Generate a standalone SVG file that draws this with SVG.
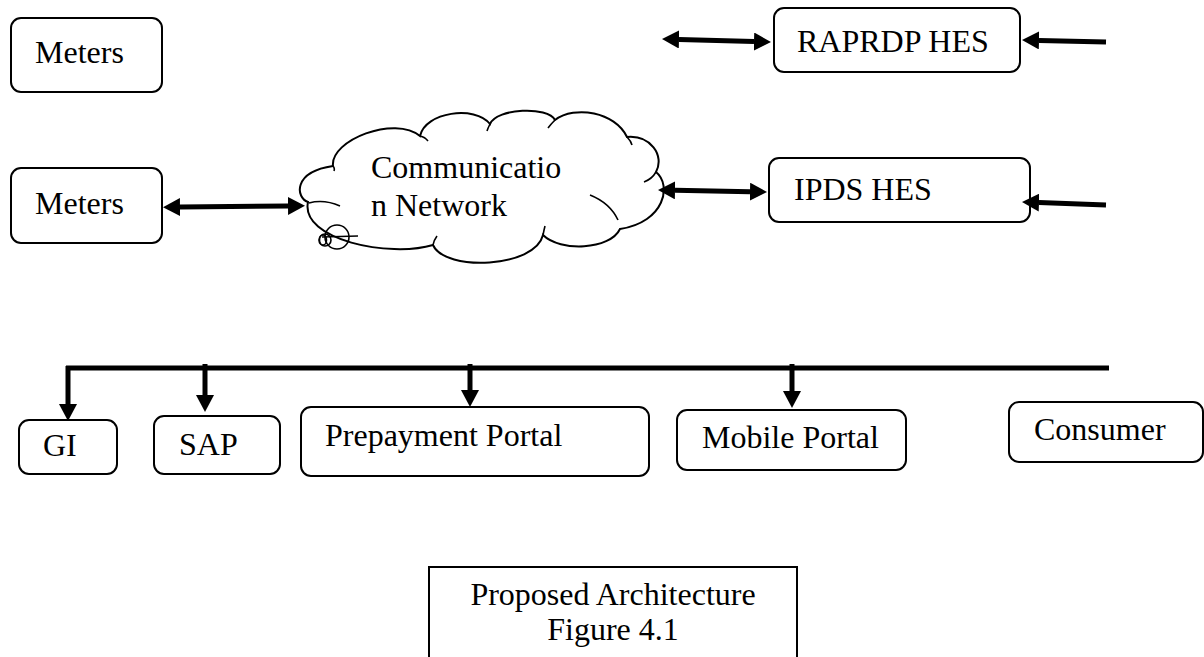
<svg xmlns="http://www.w3.org/2000/svg" width="1204" height="657" viewBox="0 0 1204 657">
<defs>
<marker id="ah" markerUnits="userSpaceOnUse" markerWidth="18" markerHeight="18" refX="0" refY="9" orient="auto-start-reverse" viewBox="0 0 18 18">
<path d="M0,0 L17,9 L0,18 z" fill="#000"/>
</marker>
</defs>
<style>
.box{fill:#fff;stroke:#000;stroke-width:2}
.t{font-family:"Liberation Serif","Times New Roman",serif;font-size:32px;fill:#000}
.c{fill:none;stroke:#000;stroke-width:5}
.cl{fill:#fff;stroke:#000;stroke-width:2}
.ci{fill:none;stroke:#000;stroke-width:1.6}
</style>
<rect width="1204" height="657" fill="#fff"/>

<g id="meters1">
<rect class="box" x="11" y="18" width="151" height="74" rx="10"/>
<text class="t" x="35" y="63">Meters</text>
</g>

<g id="raprdp-hes">
<rect class="box" x="774" y="8" width="246" height="64" rx="10"/>
<text class="t" x="797" y="52">RAPRDP HES</text>
</g>

<g id="meters2">
<rect class="box" x="11" y="168" width="151" height="75" rx="10"/>
<text class="t" x="35" y="214">Meters</text>
</g>

<g id="comm-network">
<path class="cl" d="M308,202 C296,198 292,172 333,166 C330,140 395,115 420,136 C425,112 475,105 490,124 C497,108 548,106 555,120 C575,105 615,112 627,137 C650,135 665,155 656,172 C672,185 665,222 620,229 C610,250 560,252 543,235 C535,268 445,272 433,245 C390,258 300,240 308,202 Z"/>
<path class="ci" d="M309,203 Q324,199 340,206 M333,166 Q335,168 334,171 M420,136 Q425,137 428,141 M490,124 Q488,128 487,131 M555,120 Q551,124 548,128 M627,137 Q631,141 632,145 M656,172 Q652,179 644,182 M618,220 Q610,203 590,195 M543,235 Q544,230 545,226 M433,245 Q434,240 437,236"/>
<circle class="ci" cx="325" cy="240" r="6"/>
<ellipse class="ci" cx="323" cy="240" rx="3.5" ry="5"/>
<circle class="ci" cx="337" cy="237" r="12"/>
<path class="ci" d="M322,237 L358,236"/>
<text class="t" x="371" y="178">Communicatio</text>
<text class="t" x="371" y="216">n Network</text>
</g>

<g id="ipds-hes">
<rect class="box" x="769" y="158" width="261" height="64" rx="10"/>
<text class="t" x="794" y="200">IPDS HES</text>
</g>

<g id="gi">
<rect class="box" x="19" y="420" width="98" height="54" rx="10"/>
<text class="t" x="43" y="456">GI</text>
</g>

<g id="sap">
<rect class="box" x="154" y="416" width="126" height="58" rx="10"/>
<text class="t" x="179" y="455">SAP</text>
</g>

<g id="prepayment-portal">
<rect class="box" x="301" y="407" width="348" height="69" rx="10"/>
<text class="t" x="325" y="446">Prepayment Portal</text>
</g>

<g id="mobile-portal">
<rect class="box" x="677" y="410" width="229" height="60" rx="10"/>
<text class="t" x="702" y="448">Mobile Portal</text>
</g>

<g id="consumer">
<rect class="box" x="1009" y="402" width="194" height="60" rx="10"/>
<text class="t" x="1034" y="440">Consumer</text>
</g>

<g id="caption">
<rect fill="#fff" stroke="#000" stroke-width="2" x="429" y="567" width="368" height="100"/>
<text class="t" x="613" y="605" text-anchor="middle">Proposed Architecture</text>
<text class="t" x="613" y="640" text-anchor="middle">Figure 4.1</text>
</g>

<g id="connectors">
<line class="c" x1="679" y1="39.5" x2="754" y2="41.5" marker-start="url(#ah)" marker-end="url(#ah)"/>
<line class="c" x1="1106" y1="42" x2="1039" y2="40.4" marker-end="url(#ah)"/>
<line class="c" x1="180" y1="207" x2="288" y2="206" marker-start="url(#ah)" marker-end="url(#ah)"/>
<line class="c" x1="675" y1="190.3" x2="750" y2="191.7" marker-start="url(#ah)" marker-end="url(#ah)"/>
<line class="c" x1="1106" y1="205" x2="1039" y2="202.6" marker-end="url(#ah)"/>
<line class="c" x1="66" y1="368" x2="1109" y2="368"/>
<line class="c" x1="68" y1="366" x2="68" y2="404" marker-end="url(#ah)"/>
<line class="c" x1="205" y1="364" x2="205" y2="395" marker-end="url(#ah)"/>
<line class="c" x1="470" y1="364" x2="470" y2="390" marker-end="url(#ah)"/>
<line class="c" x1="792" y1="364" x2="792" y2="391" marker-end="url(#ah)"/>
</g>
</svg>
